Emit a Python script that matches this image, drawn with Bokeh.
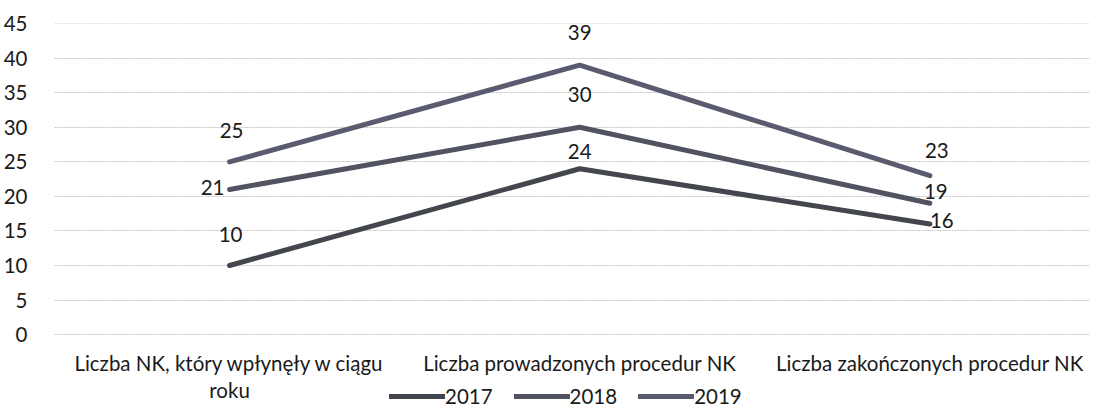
from bokeh.plotting import figure
from bokeh.models import (Range1d, FixedTicker, Legend, LegendItem, ColumnDataSource)
from bokeh.core.properties import value
from bokeh.embed import file_html
from bokeh.resources import INLINE

# ---- data ----
categories = ["Liczba NK, który wpłynęły w ciągu\nroku",
              "Liczba prowadzonych procedur NK",
              "Liczba zakończonych procedur NK"]
series_names = ["2017", "2018", "2019"]
values_2017 = [10, 24, 16]
values_2018 = [21, 30, 19]
values_2019 = [25, 39, 23]
y_ticks = [0, 5, 10, 15, 20, 25, 30, 35, 40, 45]

# ---- styles ----
colors = ["#44464e", "#515362", "#5a5b6e"]
label_offsets = {
    "2017": [(1, -31), (0, -17), (12, -4)],
    "2018": [(-17, -2), (0, -33), (6, -12)],
    "2019": [(2, -31), (0, -33), (7, -25)],
}
FONT = "Lato"
FS = "20.5px"
TXT = "#1a1a1a"

xs = list(range(len(categories)))

# frame spans the category-label and legend area too (below the zero line)
PLOT_W = 1090
PLOT_H = 408
TOP = 23
LEFT = 50
ZERO_PX = 311          # pixels from 0 to 45
PX_PER_CAT = 351.5
ymax = 45.03
ymin = -(PLOT_H - TOP - ZERO_PX) / ZERO_PX * 45
xmin = -0.5
xmax = xmin + (PLOT_W - LEFT) / PX_PER_CAT

p = figure(width=PLOT_W, height=PLOT_H, output_backend="svg", toolbar_location=None,
           x_range=Range1d(xmin, xmax), y_range=Range1d(ymin, ymax),
           min_border_left=LEFT, min_border_right=0, min_border_top=TOP,
           min_border_bottom=0)
p.outline_line_color = None
p.background_fill_color = "white"
p.xaxis.visible = False

p.xgrid.grid_line_color = None
p.ygrid.grid_line_color = "#c4c4c4"
p.ygrid.grid_line_width = 1
p.ygrid.grid_line_dash = "2 1"

p.yaxis.ticker = FixedTicker(ticks=y_ticks)
p.yaxis.axis_line_color = None
p.yaxis.major_tick_line_color = None
p.yaxis.minor_tick_line_color = None
p.yaxis.major_label_standoff = 21
p.yaxis.major_label_text_font = FONT
p.yaxis.major_label_text_font_size = FS
p.yaxis.major_label_text_color = TXT

# category labels under the zero line
cat_src = ColumnDataSource(dict(x=xs, y=[0] * len(xs), t=categories))
p.text(x="x", y="y", text="t", source=cat_src, y_offset=16,
       text_align="center", text_baseline="top", text_line_height=1.13,
       text_font=value(FONT), text_font_size=FS, text_color=TXT)

items = []
all_vals = [values_2017, values_2018, values_2019]
for name, vals, col in zip(series_names, all_vals, colors):
    r = p.line(xs, vals, line_color=col, line_width=5, line_cap="round",
               line_join="round")
    items.append(LegendItem(label=name, renderers=[r]))
    offs = label_offsets[name]
    src = ColumnDataSource(dict(x=xs, y=vals, t=[str(v) for v in vals],
                                dx=[o[0] for o in offs], dy=[o[1] for o in offs]))
    p.text(x="x", y="y", text="t", x_offset="dx", y_offset="dy", source=src,
           text_align="center", text_baseline="middle",
           text_font=value(FONT), text_font_size=FS, text_color=TXT)

legend = Legend(items=items, orientation="horizontal", location=(335, 0),
                label_text_font=FONT, label_text_font_size=FS,
                label_text_color=TXT, glyph_width=56, glyph_height=18,
                label_height=18, label_standoff=0, spacing=21, padding=0, margin=0,
                border_line_color=None, background_fill_alpha=0)
p.add_layout(legend, "center")

open("out.html", "w").write(file_html(p, INLINE))
